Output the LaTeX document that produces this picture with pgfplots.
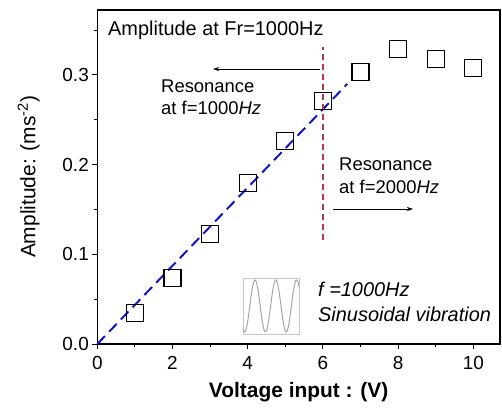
\documentclass[border=0pt]{standalone}
\usepackage{pgfplots}
\pgfplotsset{compat=1.18}
\usepackage{fontspec}
\setmainfont{Liberation Sans}
\usetikzlibrary{arrows.meta}

\definecolor{fitblue}{RGB}{20,20,200}
\definecolor{resred}{RGB}{176,56,72}
\newcommand\fs[1]{\fontsize{#1}{#1}\selectfont}

\begin{document}
\begin{tikzpicture}
\begin{axis}[
    name=ax,
    scale only axis,
    width=402.7bp, height=334bp,
    xmin=0, xmax=10.71,
    ymin=0, ymax=0.3724,
    axis line style={line width=1.1bp},
    xtick={0,2,...,10},
    minor xtick={1,3,...,9},
    ytick={0,0.1,0.2,0.3},
    minor ytick={0.05,0.15,0.25,0.35},
    xtick pos=left, ytick pos=left,
    tick align=outside,
    major tick length=5bp, minor tick length=3bp,
    tick style={black, line width=1bp},
    /pgf/number format/assume math mode=true,
    tick label style={font=\fs{19}},
    xticklabel style={yshift=-4bp},
    yticklabel style={/pgf/number format/.cd, fixed, precision=1, fixed zerofill},
    xlabel={\textbf{Voltage input : (V)}},
    ylabel={Amplitude: (ms\textsuperscript{-2})},
    label style={font=\fs{21}},
    xlabel style={yshift=-6bp},
    ylabel style={yshift=16bp},
    clip=false,
]
% measured points
\addplot[only marks, mark=square, mark size=8.5bp,
    mark options={black, line width=1.1bp}] coordinates {
    (1,0.035) (2,0.074) (3,0.123) (4,0.180) (5,0.226)
    (6,0.271) (7,0.303) (8,0.3285) (9,0.318) (10,0.308)
};
% linear fit
\addplot[fitblue, line width=2bp, dash pattern=on 11bp off 6bp]
    coordinates {(0,0) (6.65,0.29)};
% resonance marker
\addplot[resred, line width=1.5bp, dash pattern=on 6bp off 4bp]
    coordinates {(6,0.116) (6,0.331)};
\end{axis}

% annotations in pixel coordinates of the reference
\begin{scope}[shift={([xshift=-97.3bp,yshift=344bp]ax.south west)}, x=1bp, y=-1bp]
\node[anchor=base west, inner sep=0pt, font=\fs{20}] at (108,36) {Amplitude at Fr=1000Hz};
\draw[line width=0.7bp, -{Stealth[length=6bp,width=4bp]}] (320,69) -- (213,69);
\node[anchor=base west, inner sep=0pt, font=\fs{18.5}] at (161,93) {Resonance};
\node[anchor=base west, inner sep=0pt, font=\fs{18.5}] at (161,115) {at f=1000\textit{Hz}};
\node[anchor=base west, inner sep=0pt, font=\fs{18.5}] at (339,171) {Resonance};
\node[anchor=base west, inner sep=0pt, font=\fs{18.5}] at (339,194) {at f=2000\textit{Hz}};
\draw[line width=0.7bp, -{Stealth[length=6bp,width=4bp]}] (333,209) -- (413,209);
% sine icon
\draw[gray!45, line width=0.8bp] (243,278) rectangle (299,334);
\draw[gray!70, line width=1bp, domain=243:299, samples=120, smooth]
    plot (\x, {306 - 26*cos(360*(\x-255)/20.8)});
\node[anchor=base west, inner sep=0pt, font=\itshape\fs{20}] at (318,297) {f =1000Hz};
\node[anchor=base west, inner sep=0pt, font=\itshape\fs{20}] at (318,322) {Sinusoidal vibration};
\end{scope}

\pgfresetboundingbox
\path[use as bounding box] ([xshift=-97.3bp,yshift=-64bp]ax.south west)
    rectangle ([xshift=2bp,yshift=10bp]ax.north east);
\end{tikzpicture}
\end{document}
